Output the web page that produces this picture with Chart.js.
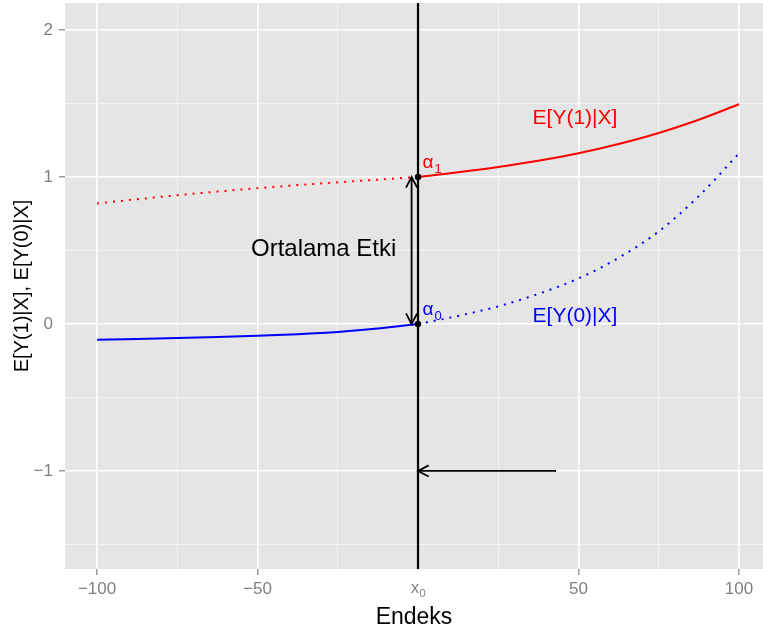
<!DOCTYPE html>
<html><head><meta charset="utf-8">
<script src="https://cdn.jsdelivr.net/npm/chart.js@4.4.0/dist/chart.umd.min.js"></script>
<style>html,body{margin:0;padding:0;background:#fff}#wrap{width:763px;height:635px}</style>
</head><body><div id="wrap"><canvas id="c" width="763" height="635"></canvas></div>
<script>
// ---- data ----
const xMajor = [-100, -50, 0, 50, 100];
const xMajorLabels = ['\u2212100', '\u221250', '', '50', '100'];
const xMinor = [-75, -25, 25, 75];
const yMajor = [-1, 0, 1, 2];
const yMajorLabels = ['\u22121', '0', '1', '2'];
const yMinor = [-1.5, -0.5, 0.5, 1.5];

const xLeft  = [-100, -87.5, -75, -62.5, -50, -37.5, -25, -12.5, 0];
const xRight = [0, 12.5, 25, 37.5, 50, 62.5, 75, 87.5, 100];
const y1Left  = [0.82, 0.849, 0.876, 0.901, 0.924, 0.945, 0.964, 0.982, 1.0];
const y1Right = [1.0, 1.032, 1.068, 1.11, 1.162, 1.225, 1.30, 1.39, 1.495];
const y0Left  = [-0.107, -0.102, -0.096, -0.089, -0.080, -0.069, -0.054, -0.031, 0];
const y0Right = [0, 0.055, 0.12, 0.205, 0.31, 0.45, 0.63, 0.87, 1.16];

const cutoffX = 0;
const alphaY = [1, 0];
const effectArrowX = -2;
const effectArrowY = [0, 1];
const thresholdArrowX = [43, 0];
const thresholdArrowY = -1;

const X_MIN = -110, X_MAX = 107.5, Y_MIN = -1.667, Y_MAX = 2.184;

const FONT = '"Liberation Sans", Arial, sans-serif';
const RED = '#ff0000', BLUE = '#0000ff';

const pts = (xs, ys) => xs.map((x, i) => ({x, y: ys[i]}));

const annotations = [
  {text: 'E[Y(1)|X]', x: 48.9, y: 1.40, color: RED, size: 21},
  {text: 'E[Y(0)|X]', x: 48.9, y: 0.054, color: BLUE, size: 21},
  {text: 'Ortalama Etki', x: -29.4, y: 0.51, color: '#000', size: 24}
];
const alphaLabels = [
  {sub: '1', x: 1.4, y: 1.095, color: RED},
  {sub: '0', x: 1.4, y: 0.095, color: BLUE}
];

function arrowHead(ctx, tx, ty, fx, fy) {
  const len = 12, ang = Math.PI / 6.5;
  const a = Math.atan2(fy - ty, fx - tx);
  ctx.beginPath();
  ctx.moveTo(tx + len * Math.cos(a + ang), ty + len * Math.sin(a + ang));
  ctx.lineTo(tx, ty);
  ctx.lineTo(tx + len * Math.cos(a - ang), ty + len * Math.sin(a - ang));
  ctx.stroke();
}

const decor = {
  id: 'decor',
  beforeDraw(chart) {
    const {ctx, chartArea: a} = chart;
    ctx.save();
    ctx.fillStyle = '#e5e5e5';
    ctx.fillRect(a.left, a.top, a.right - a.left, a.bottom - a.top);
    ctx.restore();
  },
  afterDraw(chart) {
    const {ctx, chartArea: a} = chart;
    const xs = chart.scales.x, ys = chart.scales.y;
    ctx.save();
    ctx.strokeStyle = '#000';
    ctx.lineWidth = 1.8;
    const ax = xs.getPixelForValue(effectArrowX);
    const a0 = ys.getPixelForValue(effectArrowY[0]), a1 = ys.getPixelForValue(effectArrowY[1]);
    arrowHead(ctx, ax, a1, ax, a0);
    arrowHead(ctx, ax, a0, ax, a1);
    const hy = ys.getPixelForValue(thresholdArrowY);
    const hx0 = xs.getPixelForValue(thresholdArrowX[0]), hx1 = xs.getPixelForValue(thresholdArrowX[1]);
    arrowHead(ctx, hx1, hy, hx0, hy);
    ctx.textAlign = 'center';
    ctx.textBaseline = 'middle';
    annotations.forEach(t => {
      ctx.fillStyle = t.color;
      ctx.font = t.size + 'px ' + FONT;
      ctx.fillText(t.text, xs.getPixelForValue(t.x), ys.getPixelForValue(t.y));
    });
    ctx.textAlign = 'left';
    alphaLabels.forEach(l => {
      const px = xs.getPixelForValue(l.x), py = ys.getPixelForValue(l.y);
      ctx.fillStyle = l.color;
      ctx.font = '19px ' + FONT;
      ctx.fillText('\u03B1', px, py);
      const w = ctx.measureText('\u03B1').width;
      ctx.font = '13px ' + FONT;
      ctx.fillText(l.sub, px + w + 1, py + 6);
    });
    const x0 = xs.getPixelForValue(cutoffX);
    ctx.fillStyle = '#7f7f7f';
    ctx.font = '16px ' + FONT;
    ctx.textAlign = 'right';
    ctx.fillText('x', x0 + 1, a.bottom + 20);
    ctx.font = '11px ' + FONT;
    ctx.textAlign = 'left';
    ctx.fillText('0', x0 + 1.5, a.bottom + 25);
    ctx.restore();
  }
};

function gridOpts(majors) {
  return {
    color: c => majors.includes(c.tick.value) ? '#ffffff' : '#f4f4f4',
    lineWidth: c => majors.includes(c.tick.value) ? 1.6 : 1,
    tickColor: c => (majors.includes(c.tick.value) && c.tick.value !== cutoffX) ? '#7f7f7f' : 'rgba(0,0,0,0)',
    tickWidth: 1.2,
    tickLength: 6,
    drawTicks: true
  };
}

new Chart(document.getElementById('c'), {
  type: 'scatter',
  data: {
    datasets: [
      {data: pts([cutoffX, cutoffX], alphaY), showLine: false, pointRadius: 3.2,
       pointBackgroundColor: '#000', pointBorderWidth: 0, order: 0},
      {data: pts([effectArrowX, effectArrowX], effectArrowY), showLine: true, borderColor: '#000',
       borderWidth: 1.8, pointRadius: 0, order: 1},
      {data: pts(thresholdArrowX, [thresholdArrowY, thresholdArrowY]), showLine: true, borderColor: '#000',
       borderWidth: 1.8, pointRadius: 0, order: 1},
      {data: pts([cutoffX, cutoffX], [Y_MIN, Y_MAX]), showLine: true, borderColor: '#000',
       borderWidth: 2.2, pointRadius: 0, order: 2},
      {data: pts(xRight, y1Right), showLine: true, borderColor: RED, borderWidth: 2,
       pointRadius: 0, cubicInterpolationMode: 'monotone', order: 3},
      {data: pts(xLeft, y1Left), showLine: true, borderColor: RED, borderWidth: 2, borderDash: [2, 6],
       pointRadius: 0, cubicInterpolationMode: 'monotone', order: 3},
      {data: pts(xLeft, y0Left), showLine: true, borderColor: BLUE, borderWidth: 2,
       pointRadius: 0, cubicInterpolationMode: 'monotone', order: 3},
      {data: pts(xRight, y0Right), showLine: true, borderColor: BLUE, borderWidth: 2, borderDash: [2, 6],
       pointRadius: 0, cubicInterpolationMode: 'monotone', order: 3}
    ]
  },
  options: {
    responsive: false,
    devicePixelRatio: 1,
    animation: false,
    layout: {autoPadding: false, padding: {top: 3, right: 0, bottom: 0, left: 0}},
    plugins: {legend: {display: false}, tooltip: {enabled: false}},
    scales: {
      x: {
        type: 'linear', min: X_MIN, max: X_MAX,
        afterBuildTicks: s => { s.ticks = xMajor.concat(xMinor).sort((a, b) => a - b).map(v => ({value: v})); },
        afterFit: s => { s.height = 66; s.paddingLeft = 0; s.paddingRight = 0; s.paddingTop = 0; s.paddingBottom = 0; },
        grid: gridOpts(xMajor),
        border: {display: false},
        ticks: {
          autoSkip: false, maxRotation: 0, padding: 4, color: '#7f7f7f',
          font: {family: FONT, size: 17},
          callback: v => { const i = xMajor.indexOf(v); return i >= 0 ? xMajorLabels[i] : ''; }
        },
        title: {display: true, text: 'Endeks', color: '#000', font: {family: FONT, size: 23},
                padding: {top: 0, bottom: 4}}
      },
      y: {
        type: 'linear', min: Y_MIN, max: Y_MAX,
        afterBuildTicks: s => { s.ticks = yMajor.concat(yMinor).sort((a, b) => a - b).map(v => ({value: v})); },
        afterFit: s => { s.width = 65; s.paddingLeft = 0; s.paddingRight = 0; s.paddingTop = 0; s.paddingBottom = 0; },
        grid: gridOpts(yMajor),
        border: {display: false},
        ticks: {
          autoSkip: false, padding: 6, color: '#7f7f7f',
          font: {family: FONT, size: 17},
          callback: v => { const i = yMajor.indexOf(v); return i >= 0 ? yMajorLabels[i] : ''; }
        },
        title: {display: true, text: 'E[Y(1)|X], E[Y(0)|X]', color: '#000', font: {family: FONT, size: 20},
                padding: {top: 10, bottom: 0}}
      }
    }
  },
  plugins: [decor]
});
</script>
</body></html>
